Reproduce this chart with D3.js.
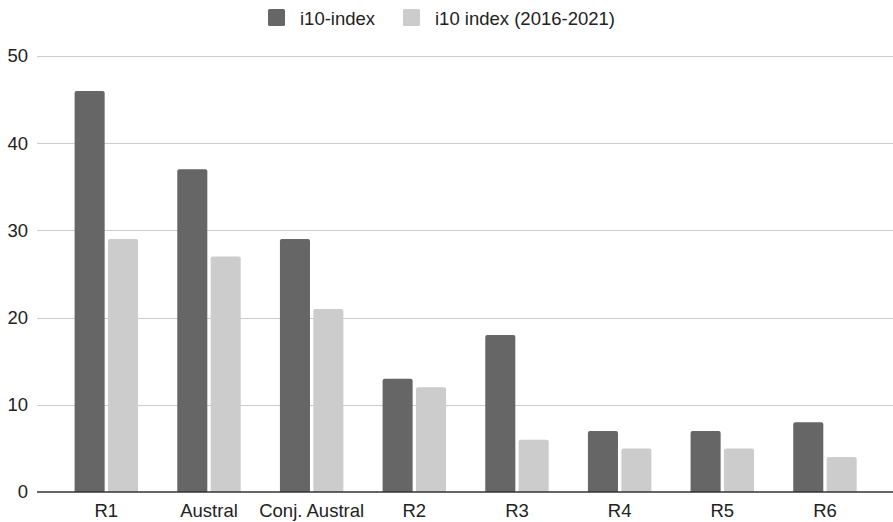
<!DOCTYPE html>
<html>
<head>
<meta charset="utf-8">
<script src="https://cdn.jsdelivr.net/npm/d3@7"></script>
<style>
  html, body { margin: 0; padding: 0; background: #fff; }
  svg { display: block; font-family: "Liberation Sans", Arial, sans-serif; }
</style>
</head>
<body>
<svg id="chart" width="893" height="522"></svg>
<script>
const categories = ["R1", "Austral", "Conj. Austral", "R2", "R3", "R4", "R5", "R6"];
const seriesNames = ["i10-index", "i10 index (2016-2021)"];
const i10Index = [46, 37, 29, 13, 18, 7, 7, 8];
const i10Recent = [29, 27, 21, 12, 6, 5, 5, 4];
const yTicks = [0, 10, 20, 30, 40, 50];
const colors = ["#666666", "#cccccc"];

const seriesValues = [i10Index, i10Recent];
const rows = categories.map((c, i) => ({
  category: c,
  values: seriesNames.map((s, j) => ({ series: s, value: seriesValues[j][i], idx: j }))
}));

const svg = d3.select("#chart");
const plotLeft = 37, plotRight = 893;

const y = d3.scaleLinear().domain([0, 50]).range([492, 56]);

const x0 = d3.scaleBand()
  .domain(categories)
  .range([55, 876.3])
  .paddingInner(0.382)
  .paddingOuter(0.191);

const x1 = d3.scaleBand()
  .domain(seriesNames)
  .range([0, x0.bandwidth()])
  .paddingInner(0.1);

const fontSize = 18.5;
const textColor = "#222222";

// gridlines
svg.append("g")
  .selectAll("line")
  .data(yTicks.filter(t => t !== 0))
  .join("line")
  .attr("x1", plotLeft).attr("x2", plotRight)
  .attr("y1", d => Math.round(y(d)) + 0.5)
  .attr("y2", d => Math.round(y(d)) + 0.5)
  .attr("stroke", "#cccccc")
  .attr("stroke-width", 1);

// y axis labels
const yAxis = d3.axisLeft(y).tickValues(yTicks).tickSize(0).tickPadding(0);
const gy = svg.append("g").attr("transform", "translate(28,0)").call(yAxis);
gy.select(".domain").remove();
gy.selectAll("text")
  .attr("fill", textColor)
  .style("font-size", fontSize + "px")
  .style("font-family", "'Liberation Sans', Arial, sans-serif");

// bars with slightly rounded tops
const r = 2;
function barPath(x, w, yTop, yBase) {
  const h = yBase - yTop;
  const rr = Math.min(r, h / 2, w / 2);
  return `M${x},${yBase}V${yTop + rr}Q${x},${yTop} ${x + rr},${yTop}H${x + w - rr}Q${x + w},${yTop} ${x + w},${yTop + rr}V${yBase}Z`;
}

const groups = svg.append("g")
  .selectAll("g")
  .data(rows)
  .join("g")
  .attr("transform", d => `translate(${x0(d.category)},0)`);

groups.selectAll("path")
  .data(d => d.values)
  .join("path")
  .attr("d", d => barPath(x1(d.series), x1.bandwidth(), y(d.value), y(0)))
  .attr("fill", d => colors[d.idx]);

// baseline
svg.append("line")
  .attr("x1", plotLeft).attr("x2", plotRight)
  .attr("y1", y(0)).attr("y2", y(0))
  .attr("stroke", "#333333")
  .attr("stroke-width", 1.6);

// x axis labels
const xAxis = d3.axisBottom(x0).tickSize(0).tickPadding(0);
const gx = svg.append("g").attr("transform", `translate(0,${y(0) + 24.5})`).call(xAxis);
gx.select(".domain").remove();
gx.selectAll("text")
  .attr("dy", 0)
  .attr("fill", textColor)
  .style("font-size", fontSize + "px")
  .style("font-family", "'Liberation Sans', Arial, sans-serif");

// legend
const legendItems = [
  { name: seriesNames[0], color: colors[0], x: 268 },
  { name: seriesNames[1], color: colors[1], x: 403 }
];
const lg = svg.append("g");
legendItems.forEach(it => {
  lg.append("rect")
    .attr("x", it.x).attr("y", 9)
    .attr("width", 17).attr("height", 17)
    .attr("rx", 1.5)
    .attr("fill", it.color);
  lg.append("text")
    .attr("x", it.x + 32).attr("y", 24.5)
    .attr("fill", textColor)
    .style("font-size", fontSize + "px")
    .text(it.name);
});
</script>
</body>
</html>
